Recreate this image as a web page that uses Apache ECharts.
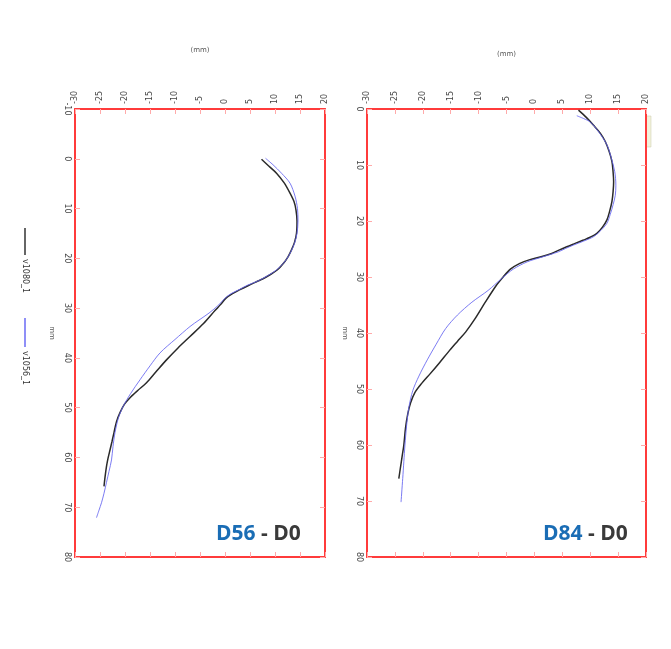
<!DOCTYPE html>
<html>
<head>
<meta charset="utf-8">
<script src="https://cdn.jsdelivr.net/npm/echarts@6/dist/echarts.min.js"></script>
<style>html,body{margin:0;padding:0;background:#fff}#c{width:671px;height:649px}</style>
</head>
<body>
<div id="c"></div>
<script>
// Panel 1: D56 - D0  (x, depth)
var leftBlack = [[7.3,0.1],[8.8,1.5],[10.3,2.9],[11.8,4.8],[13,6.9],[13.8,8.6],[14.2,10.3],[14.4,12.5],[14.3,15],[13.9,16.8],[13.3,18.3],[12.6,19.7],[11.7,21],[10.5,22.3],[9,23.3],[7.6,24.1],[6.3,24.7],[4.6,25.5],[3,26.3],[1.5,27.1],[0.2,28],[-0.9,29.3],[-2,30.5],[-4.3,33.1],[-7,35.7],[-9.4,38],[-11.7,40.4],[-13.8,42.8],[-15.7,45],[-17.4,46.5],[-18.9,47.9],[-20.1,49.3],[-21,51],[-21.7,52.8],[-22.2,55],[-22.6,56.8],[-23,58.5],[-23.4,60.2],[-23.7,61.8],[-24,64],[-24.2,65.8]];
var leftBlue = [[8.1,-0.1],[9.6,1.2],[11.3,2.9],[13,4.9],[14,7.5],[14.5,10],[14.6,12.5],[14.4,15],[13.9,17],[13.2,18.6],[12.3,20.2],[11,21.7],[9.5,22.9],[7.8,23.9],[6.5,24.6],[4.5,25.4],[2.8,26.3],[1.2,27.1],[0,28],[-1.3,29.4],[-3.2,31],[-5.2,32.4],[-7,33.7],[-10,36.3],[-13,39],[-15,41.6],[-17,44.4],[-18.9,47.2],[-20.3,49.6],[-21.3,52],[-22,55],[-22.4,57.8],[-22.7,60.5],[-23.2,62.8],[-23.7,65],[-24.2,67.2],[-24.7,69.1],[-25.2,70.6],[-25.7,72.1]];
// Panel 2: D84 - D0
var rightBlack = [[7.9,0.2],[9.3,1.5],[10.6,2.9],[11.8,4.3],[12.7,5.8],[13.4,7.6],[13.9,9.4],[14.1,11.2],[14.2,13],[14.1,14.8],[13.9,16.5],[13.5,18.2],[13,19.8],[12.2,21.1],[11.2,22.2],[10,22.9],[8.8,23.4],[7.3,24],[5.8,24.6],[4.4,25.2],[3.1,25.8],[1.2,26.4],[-0.8,26.9],[-2.7,27.6],[-4.3,28.6],[-5.6,30],[-6.9,31.6],[-8.8,34.5],[-10.6,37.4],[-12.3,39.8],[-13.8,41.5],[-15.2,43.1],[-17,45.3],[-18.7,47.3],[-20.2,49],[-21.4,50.6],[-22.2,52.5],[-22.7,54.5],[-23.1,57],[-23.4,60],[-23.7,62],[-24,64],[-24.3,66]];
var rightBlue = [[7.6,1.2],[8.8,1.7],[10,2.3],[11.6,4.2],[13,6.4],[13.8,8.8],[14.4,11.2],[14.6,13.6],[14.5,15.4],[14.1,17.1],[13.6,18.8],[13,20.4],[11.9,21.7],[10.6,22.8],[8.8,23.6],[7,24.3],[5.6,24.9],[4.3,25.5],[1.5,26.4],[-1.3,27.3],[-3.8,28.6],[-5.9,30.3],[-8.3,32.4],[-11.2,34.5],[-13.8,36.8],[-15.9,39.2],[-17.6,42],[-19.2,44.8],[-20.7,47.7],[-21.8,50.3],[-22.5,53.3],[-22.9,56.5],[-23.2,60],[-23.4,63],[-23.6,66],[-23.9,70.2]];

var seriesNames = ['v1080_1', 'v1056_1'];
var panelTitles = [['D56', ' - D0'], ['D84', ' - D0']];
var xRange = [-30, 20];
var yRangeLeft = [-10, 80];
var yRangeRight = [0, 80];
var axisTitleX = '(mm)';
var axisTitleY = 'mm';

var RED = '#ff3b3b', TICK = '#ffaaaa', LBL = '#444';
var FF = 'DejaVu Sans, sans-serif';

function xAx(grid, pos, showLabel, name, gap) {
  return {
    type: 'value', gridIndex: grid, position: pos, min: xRange[0], max: xRange[1], interval: 5,
    axisLine: {show: true, onZero: false, lineStyle: {color: RED, width: 2}},
    axisTick: {show: true, inside: true, length: 5, lineStyle: {color: TICK, width: 1}},
    axisLabel: {show: showLabel, rotate: -90, fontSize: 8, color: LBL, margin: 5, fontFamily: FF},
    splitLine: {show: false},
    name: name || '', nameLocation: 'middle', nameGap: gap || 0,
    nameTextStyle: {fontSize: 7, color: '#555', fontFamily: FF}
  };
}
function yAx(grid, pos, range, showLabel, name, gap) {
  return {
    type: 'value', gridIndex: grid, position: pos, min: range[0], max: range[1], interval: 10, inverse: true,
    axisLine: {show: true, onZero: false, lineStyle: {color: RED, width: 2}},
    axisTick: {show: true, inside: true, length: 5, lineStyle: {color: TICK, width: 1}},
    axisLabel: {show: showLabel, rotate: -90, fontSize: 8, color: LBL, margin: 4, fontFamily: FF},
    splitLine: {show: false},
    name: name || '', nameLocation: 'middle', nameGap: gap || 0, nameRotate: -90,
    nameTextStyle: {fontSize: 7, color: '#555', fontFamily: FF}
  };
}
function ln(name, data, xi, yi, color, w) {
  return {name: name, type: 'line', xAxisIndex: xi, yAxisIndex: yi, data: data, showSymbol: false,
    symbol: 'none', smooth: 0.3, lineStyle: {color: color, width: w}, itemStyle: {color: color}, z: w > 1.2 ? 3 : 4};
}

var chart = echarts.init(document.getElementById('c'), null, {renderer: 'canvas'});
var BLACK = '#2a2a2a', BLUE = 'rgba(100,100,240,0.85)';
var titleRich = {
  a: {fontSize: 21, fontWeight: 'bold', fill: '#1a6db5', fontFamily: 'Open Sans, sans-serif'},
  b: {fontSize: 21, fontWeight: 'bold', fill: '#3a3a3a', fontFamily: 'Open Sans, sans-serif'}
};
chart.setOption({
  animation: false,
  grid: [
    {left: 75, top: 109, width: 250, height: 448},
    {left: 367, top: 109, width: 279, height: 448}
  ],
  xAxis: [
    xAx(0, 'top', true, axisTitleX, 55), xAx(0, 'bottom', false),
    xAx(1, 'top', true, axisTitleX, 51), xAx(1, 'bottom', false)
  ],
  yAxis: [
    yAx(0, 'left', yRangeLeft, true, axisTitleY, 20), yAx(0, 'right', yRangeLeft, false),
    yAx(1, 'left', yRangeRight, true, axisTitleY, 19), yAx(1, 'right', yRangeRight, false)
  ],
  series: [
    ln(seriesNames[1], leftBlue, 0, 0, BLUE, 1),
    ln(seriesNames[0], leftBlack, 0, 0, BLACK, 1.5),
    ln(seriesNames[1], rightBlue, 2, 2, BLUE, 1),
    ln(seriesNames[0], rightBlack, 2, 2, BLACK, 1.5)
  ],
  graphic: [
    {type: 'line', shape: {x1: 25, y1: 228, x2: 25, y2: 255}, style: {stroke: '#333', lineWidth: 1.5}},
    {type: 'text', x: 25, y: 259, rotation: -Math.PI / 2,
      style: {text: seriesNames[0], fontSize: 8, fill: '#333', fontFamily: FF, textAlign: 'left', textVerticalAlign: 'middle'}},
    {type: 'line', shape: {x1: 25, y1: 318, x2: 25, y2: 347}, style: {stroke: '#6a6af5', lineWidth: 1.5}},
    {type: 'text', x: 25, y: 351, rotation: -Math.PI / 2,
      style: {text: seriesNames[1], fontSize: 8, fill: '#333', fontFamily: FF, textAlign: 'left', textVerticalAlign: 'middle'}},
    {type: 'text', x: 216, y: 534,
      style: {text: '{a|' + panelTitles[0][0] + '}{b|' + panelTitles[0][1] + '}', rich: titleRich, textVerticalAlign: 'middle'}},
    {type: 'text', x: 543, y: 534,
      style: {text: '{a|' + panelTitles[1][0] + '}{b|' + panelTitles[1][1] + '}', rich: titleRich, textVerticalAlign: 'middle'}},
    {type: 'rect', shape: {x: 646, y: 116, width: 5, height: 31}, style: {fill: '#f2f2dc', stroke: '#c8c8a8', lineWidth: 0.5}}
  ]
});
</script>
</body>
</html>
